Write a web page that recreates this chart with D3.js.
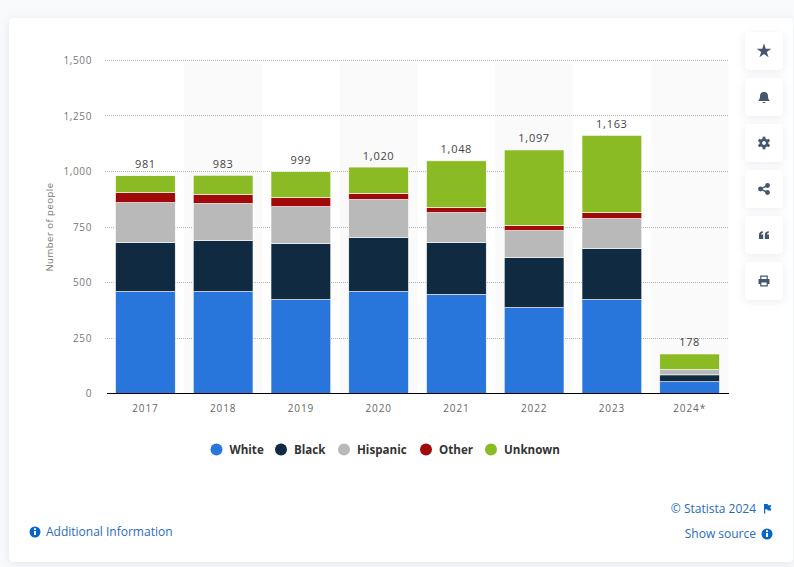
<!DOCTYPE html>
<html>
<head>
<meta charset="utf-8">
<script src="https://cdn.jsdelivr.net/npm/d3@7"></script>
<style>
html, body { margin: 0; padding: 0; background: #f8f9fb; overflow: hidden; }
text { font-family: "Open Sans", sans-serif; }
</style>
</head>
<body>
<script>
var years = ["2017", "2018", "2019", "2020", "2021", "2022", "2023", "2024*"];
var seriesNames = ["White", "Black", "Hispanic", "Other", "Unknown"];
var white = [459, 459, 423, 459, 446, 387, 423, 53];
var black = [221, 230, 253, 244, 234, 226, 230, 31];
var hispanic = [180, 167, 166, 171, 135, 121, 135, 24];
var other = [45, 40, 41, 27, 23, 23, 27, 0];
var unknown = [76, 87, 116, 119, 210, 340, 348, 70];
var totals = [981, 983, 999, 1020, 1048, 1097, 1163, 178];
var yTicks = [0, 250, 500, 750, 1000, 1250, 1500];
var colors = ["#2875dc", "#0f2a41", "#b9b9b9", "#a10a0a", "#8abb24"];

var width = 794, height = 567;
var svg = d3.select("body").append("svg")
    .attr("width", width)
    .attr("height", height)
    .style("display", "block");

var defs = svg.append("defs");
var shadow = defs.append("filter").attr("id", "soft")
    .attr("x", "-30%").attr("y", "-30%").attr("width", "160%").attr("height", "160%");
shadow.append("feDropShadow").attr("dx", 0).attr("dy", 2).attr("stdDeviation", 4)
    .attr("flood-color", "#8a94a6").attr("flood-opacity", 0.16);

// white card
svg.append("rect")
    .attr("x", 9).attr("y", 18)
    .attr("width", 784).attr("height", 544)
    .attr("rx", 4)
    .attr("fill", "#fff")
    .attr("filter", "url(#soft)");

var x = d3.scaleBand().domain(years).range([106.5, 728.5]).paddingInner(0).paddingOuter(0);
var y = d3.scaleLinear().domain([0, 1500]).range([393.5, 60.5]);

// alternating column background
svg.append("g").selectAll("rect")
    .data(years.filter(function(d, i) { return i % 2 == 1; }))
    .enter().append("rect")
    .attr("x", function(d) { return x(d); })
    .attr("y", y(1500) + 2)
    .attr("width", x.bandwidth())
    .attr("height", y(0) - y(1500) - 2)
    .attr("fill", "#fafafa");

// grid
svg.append("g").selectAll("line")
    .data(yTicks.filter(function(d) { return d > 0; }))
    .enter().append("line")
    .attr("x1", 105).attr("x2", 729)
    .attr("y1", function(d) { return Math.floor(y(d)) + 0.5; })
    .attr("y2", function(d) { return Math.floor(y(d)) + 0.5; })
    .attr("stroke", "#b5b5b5")
    .attr("stroke-width", 1)
    .attr("stroke-dasharray", "1,1");

// stacked bars
var rows = years.map(function(d, i) {
    return { year: d, White: white[i], Black: black[i], Hispanic: hispanic[i], Other: other[i], Unknown: unknown[i] };
});
var stacked = d3.stack().keys(seriesNames)(rows);
var barInset = 9;

svg.append("g").selectAll("g")
    .data(stacked)
    .enter().append("g")
    .attr("fill", function(d, i) { return colors[i]; })
    .selectAll("rect")
    .data(function(d) { return d.filter(function(p) { return p[1] > p[0]; }); })
    .enter().append("rect")
    .attr("x", function(d) { return x(d.data.year) + barInset; })
    .attr("width", x.bandwidth() - barInset * 2)
    .attr("y", function(d) { return y(d[1]); })
    .attr("height", function(d) { return y(d[0]) - y(d[1]); })
    .attr("stroke", "#fff")
    .attr("stroke-width", 0.6);

// totals above bars
svg.append("g").selectAll("text")
    .data(totals)
    .enter().append("text")
    .attr("x", function(d, i) { return x(years[i]) + x.bandwidth() / 2; })
    .attr("y", function(d) { return y(d) - 7.5; })
    .attr("text-anchor", "middle")
    .attr("font-size", 11)
    .attr("letter-spacing", 0.7)
    .attr("fill", "#444")
    .text(d3.format(","));

// axes
var xAxis = svg.append("g")
    .attr("transform", "translate(0," + y(0) + ")")
    .call(d3.axisBottom(x).tickSize(0).tickPadding(11));
xAxis.select(".domain").attr("stroke", "#000").attr("d", "M107,0H729");
xAxis.selectAll("text")
    .attr("font-family", "'Open Sans', sans-serif")
    .attr("font-size", 10)
    .attr("letter-spacing", 0.9)
    .attr("fill", "#666");

var yAxis = svg.append("g")
    .attr("transform", "translate(92,0)")
    .call(d3.axisLeft(y).tickValues(yTicks).tickSize(0).tickPadding(0).tickFormat(d3.format(",")));
yAxis.select(".domain").remove();
yAxis.selectAll("text")
    .attr("font-family", "'Open Sans', sans-serif")
    .attr("font-size", 10)
    .attr("letter-spacing", 0.6)
    .attr("fill", "#777");

svg.append("text")
    .attr("transform", "translate(53,227) rotate(-90)")
    .attr("text-anchor", "middle")
    .attr("font-size", 9.5)
    .attr("letter-spacing", 0.5)
    .attr("fill", "#777")
    .text("Number of people");

// legend
var legendX = [216.5, 281, 344, 426, 491];
var legend = svg.append("g").selectAll("g")
    .data(seriesNames)
    .enter().append("g")
    .attr("transform", function(d, i) { return "translate(" + legendX[i] + ",449.5)"; });
legend.append("circle")
    .attr("r", 6)
    .attr("fill", function(d, i) { return colors[i]; });
legend.append("text")
    .attr("x", 13)
    .attr("y", 4.5)
    .attr("font-size", 11.6)
    .attr("font-weight", 700)
    .attr("fill", "#333")
    .text(function(d) { return d; });

// info icon
function infoIcon(cx, cy) {
    var g = svg.append("g").attr("transform", "translate(" + cx + "," + cy + ")");
    g.append("circle").attr("r", 5.5).attr("fill", "#0666c6");
    g.append("rect").attr("x", -1).attr("y", -1).attr("width", 2).attr("height", 4).attr("fill", "#fff");
    g.append("circle").attr("cy", -2.8).attr("r", 1.1).attr("fill", "#fff");
}

infoIcon(35, 532);
svg.append("text")
    .attr("x", 46).attr("y", 536)
    .attr("font-size", 12)
    .attr("fill", "#2a6bb8")
    .text("Additional Information");

svg.append("text")
    .attr("x", 756).attr("y", 513)
    .attr("text-anchor", "end")
    .attr("font-size", 12)
    .attr("fill", "#2a6bb8")
    .text("© Statista 2024");
svg.append("path")
    .attr("transform", "translate(764,504)")
    .attr("d", "M0,0H3.5L4.2,1.2H7.5L6.2,3.6L7.5,6.4H3.7L3,5.2H1.2V9.5H0Z")
    .attr("fill", "#0666c6");

svg.append("text")
    .attr("x", 756).attr("y", 538)
    .attr("text-anchor", "end")
    .attr("font-size", 12)
    .attr("fill", "#2a6bb8")
    .text("Show source");
infoIcon(767, 534);

// side buttons
var buttonY = [32, 78, 124, 170, 216, 262];
var buttons = ["star", "bell", "gear", "share", "quote", "print"];
var iconColor = "#45566f";
var buttonG = svg.append("g").selectAll("g")
    .data(buttons)
    .enter().append("g")
    .attr("transform", function(d, i) { return "translate(745," + buttonY[i] + ")"; });
buttonG.append("rect")
    .attr("width", 38).attr("height", 38).attr("rx", 4)
    .attr("fill", "#fff")
    .attr("filter", "url(#soft)");

var icons = buttonG.append("g").attr("transform", "translate(19,19)").attr("fill", iconColor);
icons.filter(function(d) { return d == "star"; }).append("path")
    .attr("d", d3.symbol().type(d3.symbolStar).size(66));
icons.filter(function(d) { return d == "bell"; }).append("path")
    .attr("d", "M-5.5,3.5C-4,2 -4,0 -4,-1C-4,-3.5 -2.5,-5 0,-5C2.5,-5 4,-3.5 4,-1C4,0 4,2 5.5,3.5V4H-5.5ZM-1.5,5H1.5C1.5,6.5 -1.5,6.5 -1.5,5Z");
var gear = icons.filter(function(d) { return d == "gear"; });
gear.append("path")
    .attr("fill", "none")
    .attr("stroke", iconColor)
    .attr("stroke-width", 2.6)
    .attr("d", d3.arc()({ innerRadius: 3.2, outerRadius: 3.2, startAngle: 0, endAngle: 2 * Math.PI }));
gear.selectAll("rect").data(d3.range(6)).enter().append("rect")
    .attr("x", -1.4).attr("y", -6.3).attr("width", 2.8).attr("height", 2.4)
    .attr("transform", function(d) { return "rotate(" + d * 60 + ")"; });
var share = icons.filter(function(d) { return d == "share"; });
share.append("path")
    .attr("fill", "none").attr("stroke", iconColor).attr("stroke-width", 1.4)
    .attr("d", "M3.5,-3.5L-3.5,0L3.5,3.5");
share.selectAll("circle").data([[3.5, -3.5], [-3.5, 0], [3.5, 3.5]]).enter().append("circle")
    .attr("cx", function(d) { return d[0]; })
    .attr("cy", function(d) { return d[1]; })
    .attr("r", 2.4);
icons.filter(function(d) { return d == "quote"; }).append("path")
    .attr("d", "M-5,4V0C-5,-2.5 -3.5,-3.5 -1,-3.7V-2.3C-2.3,-2 -2.8,-1.5 -2.8,-0.5H-0.8V4ZM0.8,4V0C0.8,-2.5 2.3,-3.5 4.8,-3.7V-2.3C3.5,-2 3,-1.5 3,-0.5H5V4Z");
var printer = icons.filter(function(d) { return d == "print"; });
printer.append("path")
    .attr("fill-rule", "evenodd")
    .attr("d", "M-3.8,-5.5H3.8V-2H5.5V3H3.8V5.5H-3.8V3H-5.5V-2H-3.8ZM-2.6,-4.3V-2H2.6V-4.3ZM-2.6,1.5V4.3H2.6V1.5Z");
</script>
</body>
</html>
